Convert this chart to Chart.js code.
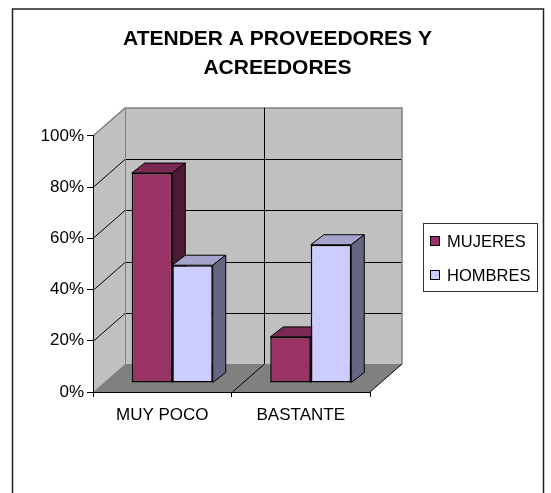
<!DOCTYPE html>
<html lang="es">
<head>
<meta charset="utf-8">
<title>Atender a proveedores y acreedores</title>
<script src="https://cdn.jsdelivr.net/npm/chart.js@4.4.1/dist/chart.umd.min.js"></script>
<style>
  html, body { margin: 0; padding: 0; background: #fff; }
  #grafica { display: block; }
</style>
</head>
<body>
<canvas id="grafica" width="551" height="493"></canvas>
<script>
/* ---------------- datos ---------------- */
const CATEGORIAS = ["MUY POCO", "BASTANTE"];
const SERIES = ["MUJERES", "HOMBRES"];
const MUJERES = [82, 18];
const HOMBRES = [46, 54];
const TICKS_Y = [0, 20, 40, 60, 80, 100];
const TITULO = ["ATENDER A PROVEEDORES Y", "ACREEDORES"];

/* ---------------- estilo ---------------- */
const FONT = "'Liberation Sans', Arial, sans-serif";
const FRENTE = ["#993366", "#ccccff"];
const TAPA = ["#7a2952", "#a3a3cc"];
const LADO = ["#4d1a33", "#666680"];
const PARED = "#c0c0c0", PISO = "#808080";
const PROF = { dx: 32, dy: -28 };      // profundidad de paredes
const DESP = { dx: 10, dy: -9 };       // plano de las barras
const BARRA = { dx: 13, dy: -10 };     // grosor de cada barra

function line(ctx, pts, color, w) {
  ctx.beginPath();
  ctx.moveTo(pts[0][0], pts[0][1]);
  for (let i = 1; i < pts.length; i++) ctx.lineTo(pts[i][0], pts[i][1]);
  ctx.strokeStyle = color; ctx.lineWidth = w || 1; ctx.stroke();
}
function poly(ctx, pts, fill, stroke) {
  ctx.beginPath();
  ctx.moveTo(pts[0][0], pts[0][1]);
  for (let i = 1; i < pts.length; i++) ctx.lineTo(pts[i][0], pts[i][1]);
  ctx.closePath();
  ctx.fillStyle = fill; ctx.fill();
  if (stroke) { ctx.strokeStyle = stroke; ctx.lineWidth = 1; ctx.stroke(); }
}

// paredes, piso, rejilla, barras 3D y leyenda al estilo Excel
const excel3d = {
  id: "excel3d",
  beforeDraw(chart) {
    const { ctx } = chart;
    const xs = chart.scales.x, ys = chart.scales.y;
    const L = xs.left, R = xs.right;
    const T = ys.getPixelForValue(100), B = ys.getPixelForValue(0);
    const { dx, dy } = PROF;
    ctx.save();
    ctx.fillStyle = "#fff"; ctx.fillRect(0, 0, chart.width, chart.height);
    ctx.strokeStyle = "#222"; ctx.lineWidth = 1.5;
    ctx.strokeRect(12.5, 9, 531, 500);

    poly(ctx, [[L, T], [L + dx, T + dy], [L + dx, B + dy], [L, B]], PARED);
    poly(ctx, [[L + dx, T + dy], [R + dx, T + dy], [R + dx, B + dy], [L + dx, B + dy]], PARED);
    poly(ctx, [[L, B], [R, B], [R + dx, B + dy], [L + dx, B + dy]], PISO);

    TICKS_Y.forEach((v) => {
      if (v === 0 || v === 100) return;
      const py = Math.round(ys.getPixelForValue(v)) + 0.5;
      line(ctx, [[L, py], [L + dx, py + dy], [R + dx, py + dy]], "#000");
    });
    line(ctx, [[L, T], [L + dx, T + dy], [R + dx, T + dy], [R + dx, B + dy]], "#808080", 1.5);
    line(ctx, [[L + dx + 0.5, T + dy], [L + dx + 0.5, B + dy]], "#808080");

    for (let i = 0; i < CATEGORIAS.length - 1; i++) {
      const px = Math.round((xs.getPixelForValue(i) + xs.getPixelForValue(i + 1)) / 2) + 0.5;
      line(ctx, [[px, B], [px + dx, B + dy], [px + dx, T + dy]], "#000");
    }
    line(ctx, [[R, B], [R + dx, B + dy]], "#000");
    ctx.restore();
  },
  // Chart.js pinta la última serie primero; aquí se pintan en orden de serie
  beforeDatasetDraw() { return false; },
  afterDatasetsDraw(chart) {
    const { ctx } = chart;
    ctx.save();
    ctx.translate(DESP.dx, DESP.dy);
    chart.data.datasets.forEach((ds, i) => {
      chart.getDatasetMeta(i).data.forEach((bar) => {
        bar.draw(ctx);
        const p = bar.getProps(["x", "y", "base", "width"], true);
        const l = p.x - p.width / 2, r = p.x + p.width / 2;
        const t = Math.min(p.y, p.base), b = Math.max(p.y, p.base);
        const { dx, dy } = BARRA;
        poly(ctx, [[l, t], [l + dx, t + dy], [r + dx, t + dy], [r, t]], TAPA[i], "#000");
        poly(ctx, [[r, t], [r + dx, t + dy], [r + dx, b + dy], [r, b]], LADO[i], "#000");
      });
    });
    ctx.restore();
  },
  afterDraw(chart) {
    const { ctx } = chart;
    ctx.save();
    ctx.strokeStyle = "#333"; ctx.lineWidth = 1;
    ctx.strokeRect(423.5, 223.5, 114, 68);
    ctx.font = "16.5px " + FONT;
    ctx.textBaseline = "middle";
    SERIES.forEach((s, k) => {
      const cy = 241 + k * 34;
      ctx.fillStyle = FRENTE[k];
      ctx.fillRect(430, cy - 5, 10, 10);
      ctx.strokeStyle = "#000";
      ctx.strokeRect(430.5, cy - 4.5, 9, 9);
      ctx.fillStyle = "#000";
      ctx.fillText(s, 447, cy + 1);
    });
    ctx.restore();
  },
};

new Chart(document.getElementById("grafica"), {
  type: "bar",
  data: {
    labels: CATEGORIAS,
    datasets: [
      { label: SERIES[0], data: MUJERES, backgroundColor: FRENTE[0] },
      { label: SERIES[1], data: HOMBRES, backgroundColor: FRENTE[1] },
    ],
  },
  options: {
    responsive: false,
    animation: false,
    layout: { padding: { left: 10, right: 6, top: 25, bottom: 0 } },
    datasets: {
      bar: {
        borderColor: "#000", borderWidth: 1.5, borderSkipped: false,
        barPercentage: 1, categoryPercentage: 0.585, clip: false,
      },
    },
    plugins: {
      legend: { display: false },
      tooltip: { enabled: false },
      title: {
        display: true, text: TITULO, color: "#000",
        font: { family: FONT, size: 21, weight: "bold", lineHeight: 1.38 },
        padding: { top: 0, bottom: 53 },
      },
    },
    scales: {
      x: {
        grid: { drawOnChartArea: false, tickLength: 5, color: "#000", offset: true },
        border: { color: "#000", width: 1 },
        ticks: { color: "#000", font: { family: FONT, size: 17 }, padding: 8 },
        afterFit: (s) => { s.height = 101; },
      },
      y: {
        min: 0, max: 100,
        afterBuildTicks: (s) => { s.ticks = TICKS_Y.map((v) => ({ value: v })); },
        grid: { drawOnChartArea: false, tickLength: 6, color: "#000" },
        border: { color: "#000", width: 1 },
        ticks: { color: "#000", font: { family: FONT, size: 17 }, padding: 3, callback: (v) => v + "%" },
        afterFit: (s) => { s.width = 83; },
      },
      y2: {
        position: "right",
        grid: { display: false },
        border: { display: false },
        ticks: { display: false },
        afterFit: (s) => { s.width = 175; },
      },
    },
  },
  plugins: [excel3d],
});
</script>
</body>
</html>
